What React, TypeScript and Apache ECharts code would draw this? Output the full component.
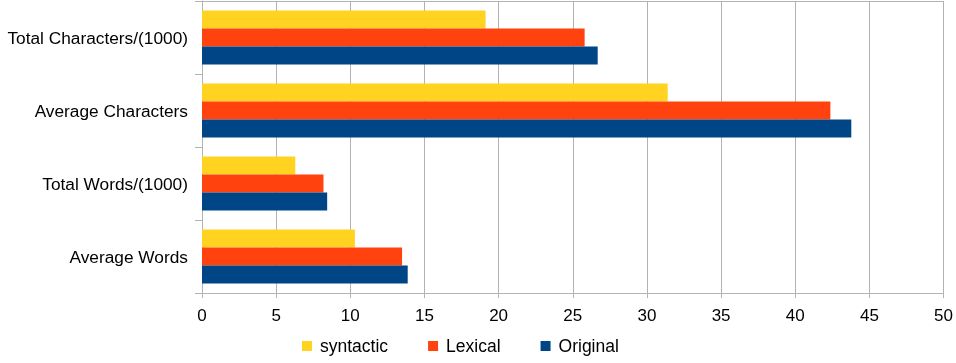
import React, { useEffect, useRef } from "react";
import * as echarts from "echarts";

const categories = [
  "Total Characters/(1000)",
  "Average Characters",
  "Total Words/(1000)",
  "Average Words",
];
const syntactic = [19.12, 31.4, 6.29, 10.31];
const lexical = [25.8, 42.37, 8.19, 13.49];
const original = [26.68, 43.78, 8.44, 13.87];
const seriesNames = ["syntactic", "Lexical", "Original"];
const seriesColors = ["#ffd320", "#ff420e", "#004586"];

const FONT = "'Liberation Sans', Arial, sans-serif";
const GRID_COLOR = "#b3b3b3";

export default function App() {
  const ref = useRef<HTMLDivElement>(null);
  useEffect(() => {
    document.body.style.margin = "0";
    if (!ref.current) return;
    const chart = echarts.init(ref.current, null, { renderer: "svg" });
    const values = [syntactic, lexical, original];
    chart.setOption({
      animation: false,
      textStyle: { fontFamily: FONT },
      grid: { left: 202, right: 10, top: 1, bottom: 70, containLabel: false },
      legend: {
        left: 297,
        top: 332,
        icon: "path://M0,0h10v10h-10z",
        itemWidth: 16,
        itemHeight: 10,
        itemGap: 40,
        textStyle: { fontFamily: FONT, fontSize: 17.5, color: "#000" },
        data: seriesNames,
      },
      xAxis: [
        {
          type: "value",
          min: 0,
          max: 50,
          interval: 5,
          position: "bottom",
          axisLine: { show: true, lineStyle: { color: GRID_COLOR } },
          axisTick: { show: true, length: 5, lineStyle: { color: GRID_COLOR } },
          axisLabel: { fontFamily: FONT, fontSize: 17, color: "#000", margin: 14 },
          splitLine: { show: true, lineStyle: { color: GRID_COLOR } },
        },
        {
          type: "value",
          min: 0,
          max: 50,
          position: "top",
          axisLine: { show: true, lineStyle: { color: GRID_COLOR } },
          axisTick: { show: false },
          axisLabel: { show: false },
          splitLine: { show: false },
        },
      ],
      yAxis: {
        type: "category",
        inverse: true,
        data: categories,
        axisLine: { show: true, lineStyle: { color: GRID_COLOR } },
        axisTick: { show: true, length: 7, lineStyle: { color: GRID_COLOR } },
        axisLabel: { fontFamily: FONT, fontSize: 17.3, color: "#000", margin: 14 },
        splitLine: { show: false },
      },
      series: seriesNames.map((name, i) => ({
        name,
        type: "bar",
        xAxisIndex: 0,
        data: values[i],
        barGap: "0%",
        barCategoryGap: "26%",
        itemStyle: { color: seriesColors[i] },
      })),
    });
    return () => chart.dispose();
  }, []);
  return (
    <div
      ref={ref}
      style={{ position: "fixed", left: 0, top: 0, width: 956, height: 363 }}
    />
  );
}
